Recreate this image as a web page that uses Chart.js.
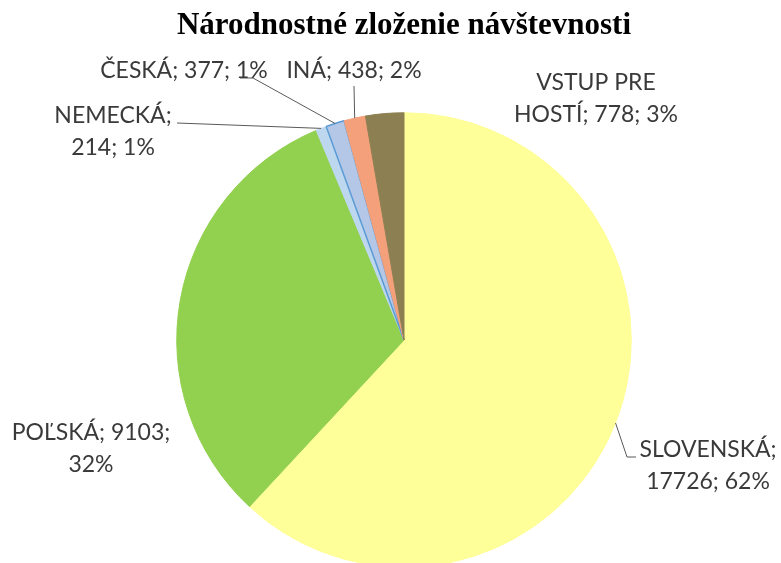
<!DOCTYPE html>
<html><head><meta charset="utf-8">
<script src="https://cdn.jsdelivr.net/npm/chart.js@4.4.0/dist/chart.umd.min.js"></script>
<style>html,body{margin:0;padding:0;background:#fff;overflow:hidden;width:781px;height:563px}canvas{display:block}</style>
</head><body>
<canvas id="c" width="781" height="620" style="width:781px;height:620px"></canvas>
<script>
const titleText = 'Národnostné zloženie návštevnosti';
const categories = ['SLOVENSKÁ', 'POĽSKÁ', 'NEMECKÁ', 'ČESKÁ', 'INÁ', 'VSTUP PRE HOSTÍ'];
const visitors = [17726, 9103, 214, 377, 438, 778];

const fillColors = ['#FFFF99', '#92D050', '#BDD7EE', '#B4C7E7', '#F4A07A', '#8C8052'];
const edgeColors = ['#FFFF99', '#92D050', '#BDD7EE', '#5B9BD5', '#F4A07A', '#8C8052'];

// label placement (text anchor = centre x, first-line baseline y), words in first line, leader elbows
const labelLayout = [
  {x: 708, y: 457, split: 1, leader: [[636, 457], [627, 457]]},
  {x: 91,  y: 440, split: 2, leader: null},
  {x: 113, y: 123, split: 1, leader: [[177, 123]]},
  {x: 184, y: 78,  split: 3, leader: [[240, 78], [253, 78]]},
  {x: 354, y: 78,  split: 3, leader: [[354, 86]]},
  {x: 596, y: 90,  split: 2, leader: null}
];
const labelFont = '23px Lato';
const lineGap = 32;

const labelPlugin = {
  id: 'outLabels',
  afterDatasetsDraw(chart) {
    const ctx = chart.ctx;
    const meta = chart.getDatasetMeta(0);
    const data = chart.data.datasets[0].data;
    const total = data.reduce((a, b) => a + b, 0);
    ctx.save();
    meta.data.forEach((arc, i) => {
      const p = arc.getProps(['x', 'y', 'startAngle', 'endAngle', 'outerRadius'], true);
      const mid = (p.startAngle + p.endAngle) / 2;
      const ex = p.x + Math.cos(mid) * p.outerRadius;
      const ey = p.y + Math.sin(mid) * p.outerRadius;
      const L = labelLayout[i];
      if (L.leader) {
        ctx.beginPath();
        ctx.strokeStyle = '#595959';
        ctx.lineWidth = 1;
        ctx.moveTo(L.leader[0][0], L.leader[0][1]);
        for (let k = 1; k < L.leader.length; k++) ctx.lineTo(L.leader[k][0], L.leader[k][1]);
        ctx.lineTo(ex, ey);
        ctx.stroke();
      }
      const pct = Math.round(data[i] / total * 100);
      const words = (chart.data.labels[i] + ';').split(' ').concat([data[i] + ';', pct + '%']);
      const lines = [words.slice(0, L.split).join(' '), words.slice(L.split).join(' ')].filter(s => s);
      ctx.font = labelFont;
      ctx.fillStyle = '#3a3a3a';
      ctx.textAlign = 'center';
      ctx.textBaseline = 'alphabetic';
      lines.forEach((t, k) => ctx.fillText(t, L.x, L.y + k * lineGap));
    });
    ctx.restore();
  }
};

new Chart(document.getElementById('c'), {
  type: 'pie',
  data: {
    labels: categories,
    datasets: [{
      data: visitors,
      backgroundColor: fillColors,
      borderColor: edgeColors,
      borderWidth: [1, 1, 1, 1.5, 1, 1],
      hoverOffset: 0
    }]
  },
  options: {
    responsive: false,
    animation: false,
    devicePixelRatio: 1,
    layout: {padding: {left: 176, right: 149, top: 0, bottom: 52}},
    plugins: {
      legend: {display: false},
      tooltip: {enabled: false},
      title: {
        display: true,
        text: titleText,
        color: '#000',
        font: {family: 'Liberation Serif', size: 31, weight: 'bold', lineHeight: 1.2},
        padding: {top: 7.5, bottom: 67.3}
      }
    }
  },
  plugins: [labelPlugin]
});
</script>
</body></html>
